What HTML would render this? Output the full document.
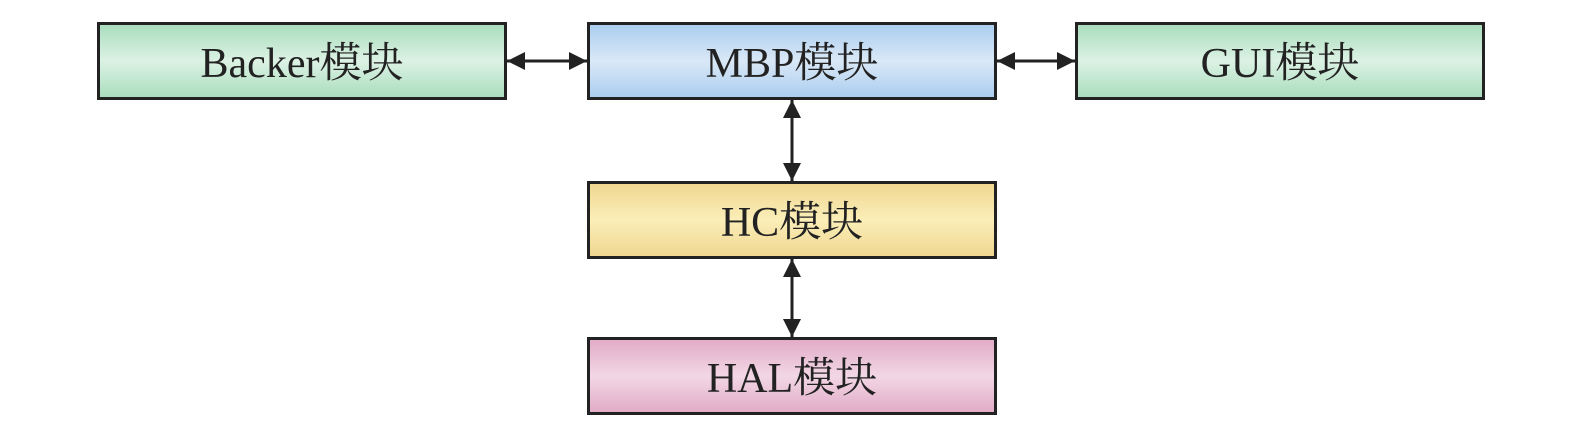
<!DOCTYPE html>
<html><head><meta charset="utf-8"><style>
html,body{margin:0;padding:0;background:#fff;overflow:hidden;}
svg{display:block;}
svg text{font-family:"Liberation Serif","Noto Serif CJK SC",serif;font-size:42px;fill:#222;}
</style></head><body>
<svg width="1575" height="441" viewBox="0 0 1575 441" xmlns="http://www.w3.org/2000/svg">
<defs>
<linearGradient id="g" x1="0" y1="0" x2="0" y2="1"><stop offset="0" stop-color="#a8dcbc"/><stop offset="0.5" stop-color="#dcf2e4"/><stop offset="1" stop-color="#a8dcbc"/></linearGradient>
<linearGradient id="b" x1="0" y1="0" x2="0" y2="1"><stop offset="0" stop-color="#a9cdef"/><stop offset="0.5" stop-color="#dae8f7"/><stop offset="1" stop-color="#a9cdef"/></linearGradient>
<linearGradient id="y" x1="0" y1="0" x2="0" y2="1"><stop offset="0" stop-color="#efd68f"/><stop offset="0.5" stop-color="#fbeeb8"/><stop offset="1" stop-color="#efd68f"/></linearGradient>
<linearGradient id="p" x1="0" y1="0" x2="0" y2="1"><stop offset="0" stop-color="#e1aac6"/><stop offset="0.5" stop-color="#f2d7e5"/><stop offset="1" stop-color="#e1aac6"/></linearGradient>
<marker id="a" viewBox="0 0 10 10" refX="10" refY="5" markerWidth="6" markerHeight="6" orient="auto-start-reverse"><path d="M0,0 L10,5 L0,10 z" fill="#222"/></marker>
</defs>
<g stroke="#222" stroke-width="3">
<rect x="98.5" y="23.5" width="407" height="75" fill="url(#g)"/>
<rect x="588.5" y="23.5" width="407" height="75" fill="url(#b)"/>
<rect x="1076.5" y="23.5" width="407" height="75" fill="url(#g)"/>
<rect x="588.5" y="182.5" width="407" height="75" fill="url(#y)"/>
<rect x="588.5" y="338.5" width="407" height="75" fill="url(#p)"/>
<line x1="507" y1="61" x2="587" y2="61" marker-start="url(#a)" marker-end="url(#a)"/>
<line x1="997" y1="61" x2="1075" y2="61" marker-start="url(#a)" marker-end="url(#a)"/>
<line x1="792" y1="100" x2="792" y2="181" marker-start="url(#a)" marker-end="url(#a)"/>
<line x1="792" y1="259" x2="792" y2="337" marker-start="url(#a)" marker-end="url(#a)"/>
</g>
<text x="302" y="77" text-anchor="middle">Backer模块</text>
<text x="792" y="77" text-anchor="middle">MBP模块</text>
<text x="1280" y="77" text-anchor="middle">GUI模块</text>
<text x="792" y="236" text-anchor="middle">HC模块</text>
<text x="792" y="392" text-anchor="middle">HAL模块</text>
</svg>
</body></html>
